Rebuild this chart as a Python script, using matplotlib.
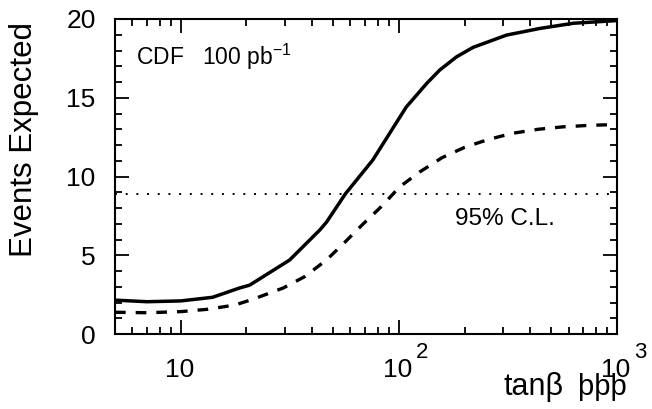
import matplotlib
matplotlib.use("Agg")
import matplotlib.pyplot as plt
from matplotlib.ticker import LogLocator, NullFormatter, MultipleLocator

plt.rcParams['font.family'] = ['Liberation Sans', 'DejaVu Sans']

# readings
tanb_solid = [5, 7, 10, 14, 18.6, 20.7, 31.6, 43.4, 46.6, 56.9, 76, 108,
              134, 154, 184, 219, 312, 443, 631, 1000]
events_solid = [2.15, 2.05, 2.1, 2.33, 2.92, 3.1, 4.7, 6.6, 7.1, 8.9, 11.05,
                14.4, 15.9, 16.76, 17.6, 18.2, 18.98, 19.4, 19.73, 19.9]

tanb_dashed = [5, 7, 10, 13.3, 17.7, 21.4, 29.5, 37, 46.6, 56.5, 68.4, 83,
               101, 125, 158, 200, 257, 331, 436, 562, 751, 1000]
events_dashed = [1.38, 1.35, 1.42, 1.57, 1.84, 2.2, 2.92, 3.64, 4.7, 5.82,
                 6.97, 8.08, 9.35, 10.3, 11.2, 11.85, 12.35, 12.74, 13.0,
                 13.15, 13.25, 13.3]

cl95 = 8.9
xlim = (5, 1000)
ylim = (0, 20)
yticks = [0, 5, 10, 15, 20]
xmajor = [10, 100, 1000]
xmajor_exp = ['', '2', '3']

fig = plt.figure(figsize=(6.52, 4.09), dpi=100)
ax = fig.add_axes([115/652, 1 - 334/409, 502/652, 315/409])

ax.plot(tanb_solid, events_solid, color='black', lw=2.5, solid_capstyle='butt')
ax.plot(tanb_dashed, events_dashed, color='black', lw=2.4,
        linestyle=(0, (3.2, 3.0)), dash_capstyle='butt')
ax.plot(xlim, [cl95, cl95], color='black', lw=1.4, linestyle=(0, (1, 4.5)))

ax.set_xscale('log')
ax.set_xlim(*xlim)
ax.set_ylim(*ylim)

ax.xaxis.set_major_locator(LogLocator(base=10))
ax.xaxis.set_minor_locator(LogLocator(base=10, subs=range(2, 10)))
ax.xaxis.set_major_formatter(NullFormatter())
ax.xaxis.set_minor_formatter(NullFormatter())
ax.set_yticks(yticks)
ax.yaxis.set_minor_locator(MultipleLocator(1))

for s in ax.spines.values():
    s.set_linewidth(1.5)
ax.tick_params(which='both', direction='in', top=True, right=True, width=1.3)
ax.tick_params(which='major', length=10)
ax.tick_params(which='minor', length=5)
ax.tick_params(axis='y', labelsize=19, pad=14)

# x tick labels written as 10 with a raised exponent
tr = ax.get_xaxis_transform()
for xv, ex in zip(xmajor, xmajor_exp):
    ax.annotate('10', (xv, 0), xycoords=tr, xytext=(-1, -26),
                textcoords='offset points', ha='center', va='center',
                fontsize=19)
    if ex:
        ax.annotate(ex, (xv, 0), xycoords=tr, xytext=(17, -13),
                    textcoords='offset points', ha='center', va='center',
                    fontsize=16)

ax.text(0.042, 0.854, 'CDF   100 pb$^{\\mathregular{-1}}$', transform=ax.transAxes,
        fontsize=16.5, ha='left', va='baseline')
ax.text(0.677, 0.346, '95% C.L.', transform=ax.transAxes,
        fontsize=17.5, ha='left', va='baseline')

fig.text(24/652, 1 - 22/409, 'Events Expected', rotation=90,
         ha='center', va='top', fontsize=22.5)
fig.text(503/652, 14/409, 'tan\u03b2', ha='left', va='baseline', fontsize=22)
fig.text(578/652, 14/409, '\u00fe\u00fe\u00fe', ha='left', va='baseline',
         fontsize=21)

fig.savefig('out.png', dpi=100)
